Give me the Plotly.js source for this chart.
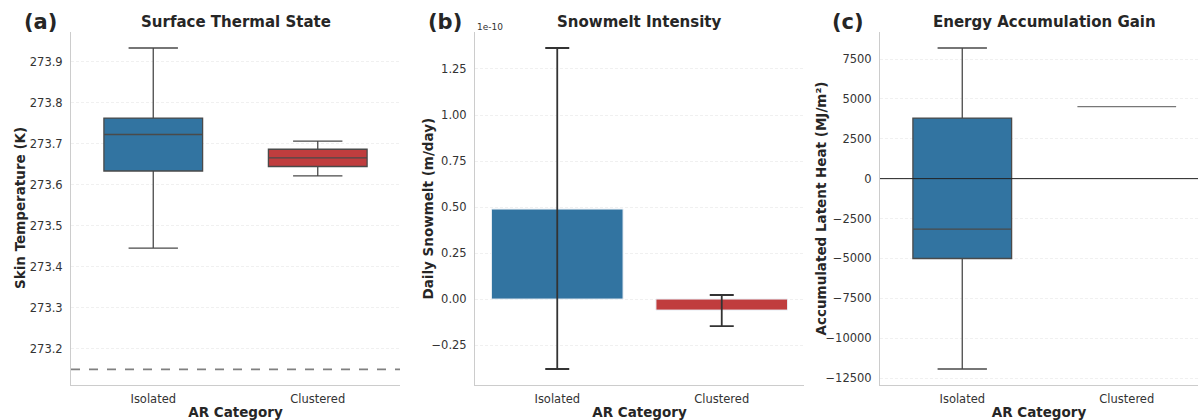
<!DOCTYPE html>
<html>
<head>
<meta charset="utf-8">
<script src="https://cdn.plot.ly/plotly-3.0.1.min.js"></script>
<style>html,body{margin:0;padding:0;background:#fff;}#chart{width:1198px;height:420px;}</style>
</head>
<body>
<div id="chart"></div>
<script>
// ---- data ----
const categories = ['Isolated', 'Clustered'];
const categoryColors = ['#3274a1', '#c03d3e'];

// (a) Skin temperature box stats (K)
const tempLower  = [273.446, 273.622];
const tempQ1     = [273.634, 273.645];
const tempMedian = [273.723, 273.666];
const tempQ3     = [273.763, 273.687];
const tempUpper  = [273.934, 273.707];
const freezingPoint = 273.15;

// (b) Daily snowmelt mean and error (m/day)
const snowmeltMean = [4.89e-11, -6.0e-12];
const snowmeltErrPlus  = [8.75e-11, 8.2e-12];
const snowmeltErrMinus = [8.69e-11, 8.7e-12];
const snowmeltScale = 1e-10;

// (c) Accumulated latent heat box stats (MJ/m²)
const heatLower  = [-11937, 4520];
const heatQ1     = [-5009, 4520];
const heatMedian = [-3160, 4520];
const heatQ3     = [3799, 4520];
const heatUpper  = [8190, 4520];

// ---- traces ----
const FONT = 'DejaVu Sans, Arial, sans-serif';
const traces = [];
categories.forEach((c, i) => {
  traces.push({
    type: 'box', x: [c], q1: [tempQ1[i]], median: [tempMedian[i]], q3: [tempQ3[i]],
    lowerfence: [tempLower[i]], upperfence: [tempUpper[i]],
    fillcolor: categoryColors[i], line: {color: '#4a4a4a', width: 1.3},
    width: 0.6, whiskerwidth: 0.5, boxpoints: false, showlegend: false,
    xaxis: 'x', yaxis: 'y', hoverinfo: 'skip'
  });
});
traces.push({
  type: 'bar', x: categories, y: snowmeltMean.map(v => v / snowmeltScale),
  marker: {color: categoryColors, line: {color: '#e8eef4', width: 1}},
  error_y: {type: 'data', symmetric: false,
    array: snowmeltErrPlus.map(v => v / snowmeltScale),
    arrayminus: snowmeltErrMinus.map(v => v / snowmeltScale),
    color: '#333333', thickness: 1.8, width: 12},
  showlegend: false, xaxis: 'x2', yaxis: 'y2', hoverinfo: 'skip'
});
categories.forEach((c, i) => {
  const flat = heatQ1[i] === heatQ3[i];
  traces.push({
    type: 'box', x: [c], q1: [heatQ1[i]], median: [heatMedian[i]], q3: [heatQ3[i]],
    lowerfence: [heatLower[i]], upperfence: [heatUpper[i]],
    fillcolor: categoryColors[i], line: {color: flat ? '#777777' : '#4a4a4a', width: 1.3},
    width: 0.6, whiskerwidth: 0.5, boxpoints: false, showlegend: false,
    xaxis: 'x3', yaxis: 'y3', hoverinfo: 'skip'
  });
});

// ---- layout ----
const W = 1198, H = 420;
const px = v => v / W, py = v => 1 - v / H;
const yDom = [py(385), py(32)];
const tickFont = {family: FONT, size: 11.5, color: '#333'};
const titleFont = {family: FONT, size: 13.5, color: '#262626', weight: 'bold'};
function xax(dom, range) {
  return {domain: dom, range: range, type: 'category', showgrid: false, zeroline: false,
    showline: true, linecolor: '#cccccc', linewidth: 1, ticks: '', tickfont: tickFont,
    ticklabelstandoff: 3,
    title: {text: 'AR Category', font: titleFont, standoff: 4}, fixedrange: true};
}
function yax(anchor, range, dtick, fmt) {
  return {domain: yDom, anchor: anchor, range: range, dtick: dtick, tickformat: fmt,
    showgrid: true, gridcolor: '#ececec', griddash: '3px,2px', gridwidth: 0.8, zeroline: false,
    showline: true, linecolor: '#cccccc', linewidth: 1, ticks: '', tickfont: tickFont,
    ticklabelstandoff: 5, fixedrange: true};
}
function yTitle(text, xPix) {
  return {text: '<b>' + text + '</b>', xref: 'paper', yref: 'paper', x: px(xPix), y: py(208.5),
    textangle: -90, showarrow: false, xanchor: 'center', yanchor: 'middle',
    font: {family: FONT, size: 13.5, color: '#262626'}};
}
function panelTitle(text, xPix) {
  return {text: '<b>' + text + '</b>', xref: 'paper', yref: 'paper', x: px(xPix), y: py(22), showarrow: false,
    font: {family: FONT, size: 15, color: '#262626'}, xanchor: 'center', yanchor: 'middle'};
}
function panelLabel(text, xPix) {
  return {text: '<b>' + text + '</b>', xref: 'paper', yref: 'paper', x: px(xPix), y: py(22), showarrow: false,
    font: {family: FONT, size: 21, color: '#262626'}, xanchor: 'left', yanchor: 'middle'};
}
const layout = {
  width: W, height: H, margin: {l: 0, r: 0, t: 0, b: 0},
  paper_bgcolor: '#fff', plot_bgcolor: '#fff', boxmode: 'overlay', bargap: 0.2,
  font: {family: FONT, color: '#333'},
  xaxis: xax([px(71), px(400)], [-0.5, 1.5]),
  xaxis2: Object.assign(xax([px(475), px(804)], [-0.5, 1.5]), {anchor: 'y2'}),
  xaxis3: Object.assign(xax([px(880), 1], [-0.5, 1.433]), {anchor: 'y3'}),
  yaxis: yax('x', [273.112, 273.973], 0.1, '.1f'),
  yaxis2: yax('x2', [-0.467, 1.451], 0.25, '.2f'),
  yaxis3: yax('x3', [-12939, 9193], 2500, 'd'),
  shapes: [
    {type: 'line', xref: 'x domain', yref: 'y', x0: 0, x1: 1, y0: freezingPoint, y1: freezingPoint,
     line: {color: '#808080', width: 1.6, dash: 'dash'}},
    {type: 'line', xref: 'x3 domain', yref: 'y3', x0: 0, x1: 1, y0: 0, y1: 0,
     line: {color: '#222', width: 1}}
  ],
  annotations: [
    panelTitle('Surface Thermal State', 235.5),
    panelTitle('Snowmelt Intensity', 639.5),
    panelTitle('Energy Accumulation Gain', 1044),
    panelLabel('(a)', 22), panelLabel('(b)', 426), panelLabel('(c)', 830),
    yTitle('Skin Temperature (K)', 19.5),
    yTitle('Daily Snowmelt (m/day)', 427),
    yTitle('Accumulated Latent Heat (MJ/m²)', 820),
    {text: '1e-10', xref: 'paper', yref: 'paper', x: px(475), y: py(27), showarrow: false,
     font: {family: FONT, size: 9, color: '#333'}, xanchor: 'left', yanchor: 'middle'}
  ]
};
Plotly.newPlot('chart', traces, layout, {staticPlot: true, displayModeBar: false});
</script>
</body>
</html>
